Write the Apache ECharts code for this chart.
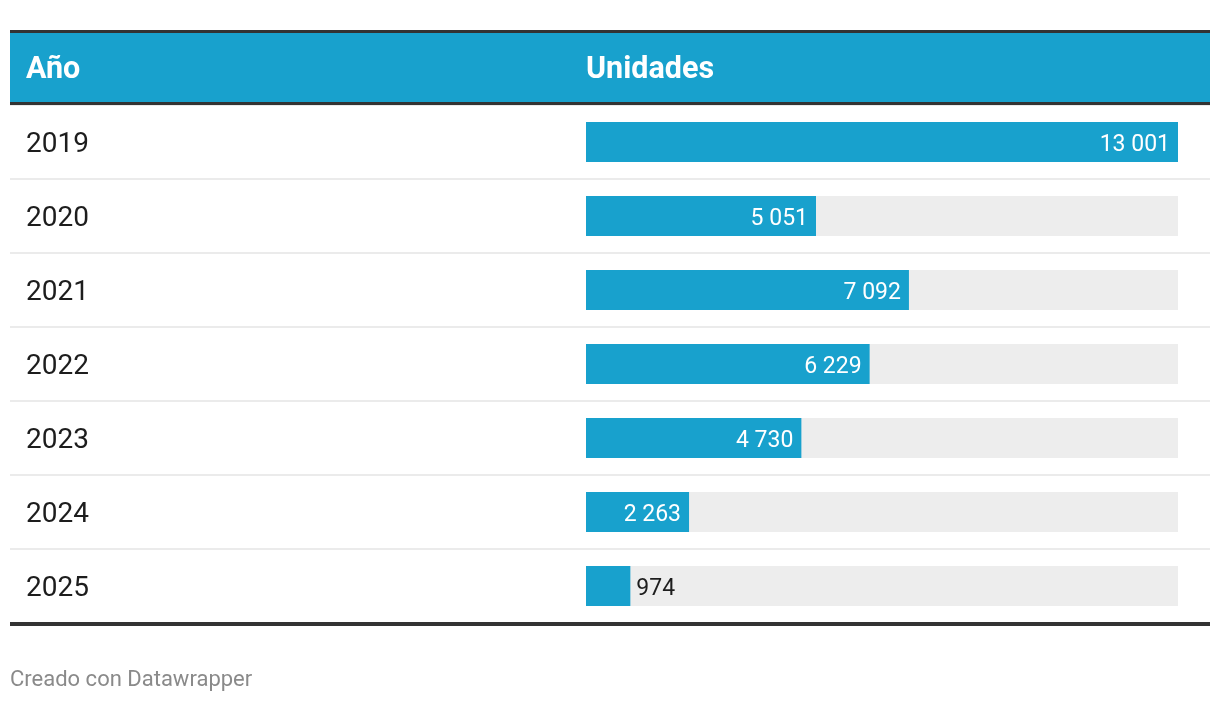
<!DOCTYPE html>
<html>
<head>
<meta charset="utf-8">
<script src="https://cdn.jsdelivr.net/npm/echarts@6/dist/echarts.min.js"></script>
<style>
html,body{margin:0;padding:0;background:#fff;}
#chart{width:1220px;height:702px;}
</style>
</head>
<body>
<div id="chart"></div>
<script>
const years = ['2019', '2020', '2021', '2022', '2023', '2024', '2025'];
const units = [13001, 5051, 7092, 6229, 4730, 2263, 974];
const headers = ['Año', 'Unidades'];
const footer = 'Creado con Datawrapper';

const BLUE = '#18a1cd';
const DARK = '#333333';
const FONT = 'Roboto, "Noto Sans", sans-serif';
const maxVal = Math.max.apply(null, units);
const barAreaWidth = 592;

function fmt(v) {
  return String(v).replace(/\B(?=(\d{3})+(?!\d))/g, ' ');
}

const barData = units.map(function (v) {
  const px = v / maxVal * barAreaWidth;
  const inside = px > 70;
  const col = inside ? '#ffffff' : '#1d1d1d';
  return {
    value: v,
    label: {
      position: inside ? 'insideRight' : 'right',
      distance: inside ? 8 : 6,
      color: col,
      rich: { v: { color: col, fontSize: 23, fontFamily: FONT, padding: [6, 0, 0, 0] } }
    }
  };
});

const chart = echarts.init(document.getElementById('chart'), null, { renderer: 'canvas' });
chart.setOption({
  animation: false,
  textStyle: { fontFamily: FONT },
  grid: [
    { left: 10, width: 1200, top: 105, height: 518 },
    { left: 586, width: barAreaWidth, top: 105, height: 518 }
  ],
  xAxis: [
    { gridIndex: 0, type: 'value', show: false, min: 0, max: 1 },
    { gridIndex: 1, type: 'value', show: false, min: 0, max: maxVal }
  ],
  yAxis: [
    {
      gridIndex: 0, type: 'category', inverse: true, data: years,
      axisLine: { show: false }, axisTick: { show: false },
      axisLabel: {
        inside: true, margin: 16, interval: 0, align: 'left',
        color: '#1d1d1d', fontSize: 28, fontFamily: FONT,
        formatter: function (v) { return '{y|' + v + '}'; },
        rich: { y: { color: '#1d1d1d', fontSize: 28, fontFamily: FONT, padding: [6, 0, 0, 0] } }
      },
      splitLine: { show: true, interval: 0, lineStyle: { color: '#ebebeb', width: 2 } }
    },
    {
      gridIndex: 1, type: 'category', inverse: true, data: years, show: false
    }
  ],
  series: [
    {
      type: 'bar',
      xAxisIndex: 1, yAxisIndex: 1,
      data: barData,
      barWidth: 40,
      itemStyle: { color: BLUE },
      showBackground: true,
      backgroundStyle: { color: '#ededed' },
      label: {
        show: true,
        fontSize: 23,
        fontFamily: FONT,
        formatter: function (p) { return '{v|' + fmt(p.value) + '}'; }
      },
      z: 3
    }
  ],
  graphic: [
    { type: 'rect', shape: { x: 10, y: 30, width: 1200, height: 3 }, style: { fill: DARK }, z: 10 },
    { type: 'rect', shape: { x: 10, y: 33, width: 1200, height: 69 }, style: { fill: BLUE }, z: 10 },
    { type: 'rect', shape: { x: 10, y: 102, width: 1200, height: 3 }, style: { fill: DARK }, z: 10 },
    { type: 'rect', shape: { x: 10, y: 622, width: 1200, height: 4 }, style: { fill: DARK }, z: 10 },
    { type: 'text', x: 26, y: 70, z: 11, style: { text: headers[0], fill: '#ffffff', font: 'bold 30.5px ' + FONT, textVerticalAlign: 'middle' } },
    { type: 'text', x: 586, y: 70, z: 11, style: { text: headers[1], fill: '#ffffff', font: 'bold 30.5px ' + FONT, textVerticalAlign: 'middle' } },
    { type: 'text', x: 10, y: 680, z: 11, style: { text: footer, fill: '#8a8a8a', font: '22px ' + FONT, textVerticalAlign: 'middle' } }
  ]
});
</script>
</body>
</html>
